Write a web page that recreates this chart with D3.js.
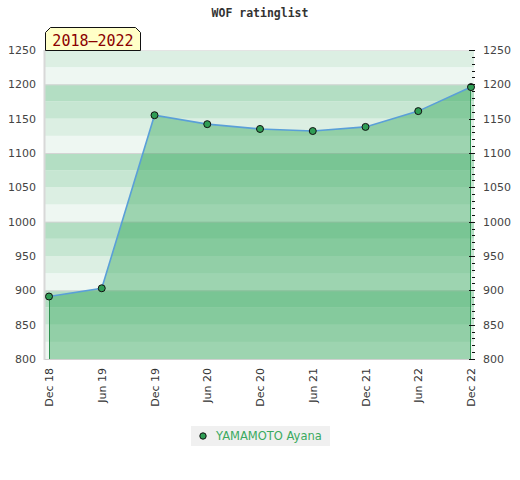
<!DOCTYPE html>
<html><head><meta charset="utf-8">
<script src="https://cdn.jsdelivr.net/npm/d3@7"></script>
<style>body{margin:0;background:#fff}</style>
</head><body><div id="c"></div>
<script>
const categories = ["Dec 18","Jun 19","Dec 19","Jun 20","Dec 20","Jun 21","Dec 21","Jun 22","Dec 22"];
const ratings = [891, 903, 1155, 1142, 1135, 1132, 1138, 1161, 1196];
const yTicks = [800, 850, 900, 950, 1000, 1050, 1100, 1150, 1200, 1250];
const seriesName = "YAMAMOTO Ayana";
const periodLabel = "2018\u20132022";
const chartTitle = "WOF ratinglist";

const W = 520, H = 480;
const pL = 45, pR = 474, pT = 50, pB = 359;
const svg = d3.select("#c").append("svg").attr("width", W).attr("height", H);

const x = d3.scalePoint().domain(categories).range([49, 471]);
const y = d3.scaleLinear().domain([800, 1250]).range([pB, pT]);

// background bands every 25 units
const bandCols = ["#eef7f2", "#dcefe3", "#c6e6d2", "#b3dec3"];
const bands = d3.range(800, 1250, 25);
svg.append("g").selectAll("rect").data(bands).join("rect")
  .attr("x", pL).attr("width", pR - pL)
  .attr("y", d => y(d + 25)).attr("height", d => y(d) - y(d + 25))
  .attr("fill", d => bandCols[((d % 100) / 25)]);

// grid lines every 100
svg.append("g").selectAll("line").data([900, 1000, 1100, 1200]).join("line")
  .attr("x1", pL).attr("x2", pR).attr("y1", d => y(d) + 0.5).attr("y2", d => y(d) + 0.5)
  .attr("stroke", "#d4d4d4").attr("stroke-width", 1);

// frame lines
svg.append("line").attr("x1", pL - 0.5).attr("x2", pL - 0.5).attr("y1", pT).attr("y2", pB + 1).attr("stroke", "#d8d8d8").attr("stroke-width", 2);
svg.append("line").attr("x1", pL).attr("x2", pR).attr("y1", pB + 0.5).attr("y2", pB + 0.5).attr("stroke", "#d0d0d0");
svg.append("line").attr("x1", pL).attr("x2", pR).attr("y1", pT + 0.5).attr("y2", pT + 0.5).attr("stroke", "#e4e4e4");

// area
const area = d3.area().x((d, i) => x(categories[i])).y0(y(800)).y1(d => y(d));
svg.append("path").datum(ratings).attr("d", area).attr("fill", "rgb(35,160,77)").attr("fill-opacity", 0.4);

// vertical edges
svg.append("line").attr("x1", x(categories[0]) + 0.5).attr("x2", x(categories[0]) + 0.5)
  .attr("y1", y(ratings[0])).attr("y2", pB).attr("stroke", "#2e9050").attr("stroke-width", 1);
svg.append("line").attr("x1", x(categories[8]) - 0.5).attr("x2", x(categories[8]) - 0.5)
  .attr("y1", y(ratings[8])).attr("y2", pB).attr("stroke", "#2e9050").attr("stroke-width", 1);

// line
const line = d3.line().x((d, i) => x(categories[i])).y(d => y(d));
svg.append("path").datum(ratings).attr("d", line).attr("fill", "none").attr("stroke", "#5a9fd8").attr("stroke-width", 1.6);

// points
svg.append("g").selectAll("circle").data(ratings).join("circle")
  .attr("cx", (d, i) => x(categories[i])).attr("cy", d => y(d)).attr("r", 3.5)
  .attr("fill", "#2f9e55").attr("stroke", "#111").attr("stroke-width", 1);

// left axis labels
svg.append("g").selectAll("text").data(yTicks).join("text")
  .attr("x", 36).attr("y", d => y(d)).attr("dy", "0.35em").attr("text-anchor", "end")
  .attr("font-family", "DejaVu Sans").attr("font-size", 11).attr("fill", "#444").text(d => d);

// right axis
const yR = d3.axisRight(y).tickValues(yTicks).tickFormat(d3.format("d")).tickSize(0).tickPadding(0);
const minor = d3.range(800, 1251, 10);
svg.append("g").selectAll("line").data(minor).join("line")
  .attr("x1", d => d % 50 === 0 ? 469 : 472).attr("x2", 475)
  .attr("y1", d => Math.round(y(d)) + 0.5).attr("y2", d => Math.round(y(d)) + 0.5)
  .attr("stroke", "#111").attr("stroke-width", 1);
const gR = svg.append("g").attr("transform", `translate(483,0)`).call(yR);
gR.select(".domain").remove();
gR.selectAll("text").attr("font-family", "DejaVu Sans").attr("font-size", 11).attr("fill", "#444");

// bottom labels
svg.append("g").selectAll("text").data(categories).join("text")
  .attr("transform", d => `translate(${x(d) + 4},368) rotate(-90)`)
  .attr("text-anchor", "end")
  .attr("font-family", "DejaVu Sans").attr("font-size", 11).attr("fill", "#333").text(d => d);

// title
svg.append("text").attr("x", 260).attr("y", 17).attr("text-anchor", "middle")
  .attr("font-family", "DejaVu Sans Mono").attr("font-weight", "bold").attr("font-size", 11.5)
  .attr("fill", "#333").text(chartTitle);

// period label box with chamfered top corners
const bx0 = 45.5, bx1 = 140.5, by0 = 27.5, by1 = 50.5, ch = 5;
svg.append("path")
  .attr("d", `M${bx0},${by1} L${bx0},${by0 + ch} L${bx0 + ch},${by0} L${bx1 - ch},${by0} L${bx1},${by0 + ch} L${bx1},${by1} Z`)
  .attr("fill", "#ffffc8").attr("stroke", "#111").attr("stroke-width", 1);
svg.append("text").attr("x", 93).attr("y", 46).attr("text-anchor", "middle")
  .attr("font-family", "DejaVu Sans Mono").attr("font-size", 15).attr("fill", "#8b0000").text(periodLabel);

// legend
svg.append("rect").attr("x", 191).attr("y", 426).attr("width", 139).attr("height", 20).attr("fill", "#f0f0f0");
svg.append("circle").attr("cx", 203).attr("cy", 436).attr("r", 3.2).attr("fill", "#2f9e55").attr("stroke", "#111");
svg.append("text").attr("x", 216).attr("y", 440).attr("font-family", "DejaVu Sans").attr("font-size", 11.5)
  .attr("fill", "#3aaa60").text(seriesName);
</script></body></html>
